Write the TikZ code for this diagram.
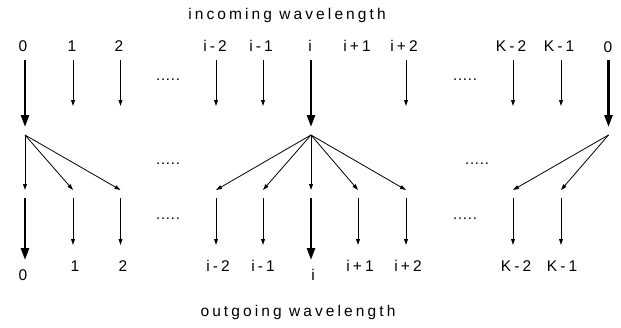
\documentclass[tikz,border=0pt]{standalone}
\usepackage{fontspec}
\setmainfont{Liberation Sans}[LetterSpace=20.0]
\newfontfamily\dotfont{Liberation Sans}[LetterSpace=5.0]
\usetikzlibrary{arrows.meta}
\tikzset{
  thinarr/.style={line width=0.8pt, -{Triangle[length=6pt,width=3.8pt]}},
  thickarr/.style={line width=2.6pt, -{Triangle[length=12pt,width=8pt]}},
  lab/.style={inner sep=0pt, font=\fontsize{15.5}{18}\selectfont},
  dots/.style={inner sep=0pt, anchor=base, font=\fontsize{15}{18}\selectfont\dotfont},
}
\begin{document}
\begin{tikzpicture}[x=1pt,y=-1pt]
\useasboundingbox (0,0) rectangle (621,327);
% titles
\node[lab] (tin) at (287,15) {incoming wavelength};
\node[lab] (tout) at (298,312) {outgoing wavelength};
% top labels
\node[lab] (u0) at (23,46) {0};
\node[lab] (u1) at (72,46) {1};
\node[lab] (u2) at (119,46) {2};
\node[lab] (ua) at (215,46) {i-2};
\node[lab] (ub) at (261,46) {i-1};
\node[lab] (ui) at (310,46) {i};
\node[lab] (uc) at (357,46) {i+1};
\node[lab] (ud) at (404,46) {i+2};
\node[lab] (ue) at (511,46) {K-2};
\node[lab] (uf) at (559,46) {K-1};
\node[lab] (uz) at (608,47) {0};
% bottom labels
\node[lab] (d0) at (23,275) {0};
\node[lab] (d1) at (75,266) {1};
\node[lab] (d2) at (123,266) {2};
\node[lab] (da) at (218,266) {i-2};
\node[lab] (db) at (263,266) {i-1};
\node[lab] (di) at (313,275) {i};
\node[lab] (dc) at (360,266) {i+1};
\node[lab] (dd) at (408,266) {i+2};
\node[lab] (de) at (516,266) {K-2};
\node[lab] (df) at (562,266) {K-1};
% dots
\node[dots] (p1) at (168,80) {.....};
\node[dots] (p2) at (465,80) {.....};
\node[dots] (p3) at (168,164) {.....};
\node[dots] (p4) at (477,164) {.....};
\node[dots] (p5) at (168,219) {.....};
\node[dots] (p6) at (465,219) {.....};
% top arrows
\foreach \n/\x in {1/73,2/120.5,a/216,b/263,d/406,e/513,f/561}{
  \coordinate (ts\n) at (\x,60);
  \coordinate (te\n) at (\x,106);
  \draw[thinarr] (ts\n) -- (te\n);
}
\foreach \n/\x in {0/25,i/311,z/608.5}{
  \coordinate (ts\n) at (\x,60);
  \coordinate (te\n) at (\x,127);
  \draw[thickarr] (ts\n) -- (te\n);
  \coordinate (f\n) at (\x,135);
}
% fan targets
\foreach \n/\x in {0/25,1/73,2/120.5,a/216,b/263,i/311,c/358,d/406,e/513,f/561}{
  \coordinate (g\n) at (\x,190);
}
\foreach \t in {0,1,2}{\draw[thinarr] (f0) -- (g\t);}
\foreach \t in {a,b,i,c,d}{\draw[thinarr] (fi) -- (g\t);}
\foreach \t in {e,f}{\draw[thinarr] (fz) -- (g\t);}
% lower arrows
\foreach \n/\x in {1/73,2/120.5,a/216,b/263,c/358,d/406,e/513,f/561}{
  \coordinate (ls\n) at (\x,198);
  \coordinate (le\n) at (\x,245);
  \draw[thinarr] (ls\n) -- (le\n);
}
\foreach \n/\x in {0/25,i/311}{
  \coordinate (ls\n) at (\x,198);
  \coordinate (le\n) at (\x,260);
  \draw[thickarr] (ls\n) -- (le\n);
}
\end{tikzpicture}
\end{document}
